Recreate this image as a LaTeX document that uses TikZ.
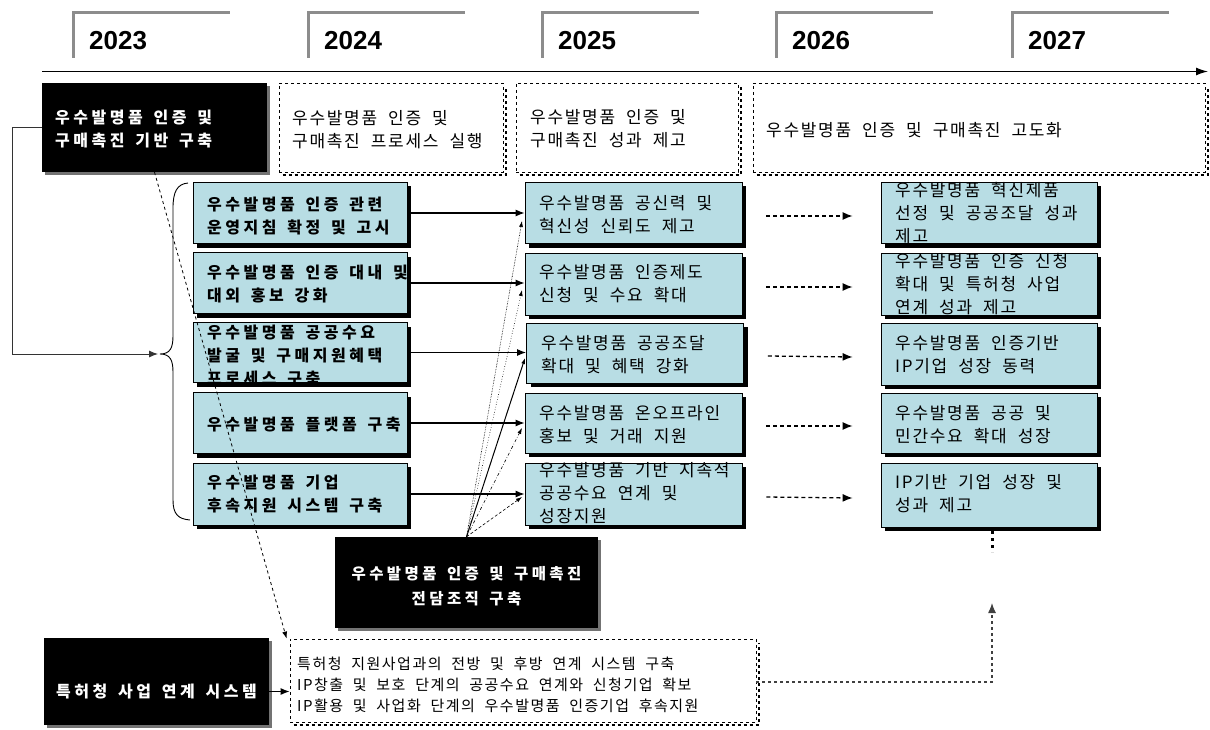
\documentclass[tikz,border=0pt]{standalone}
\usepackage{fontspec}
\usetikzlibrary{arrows.meta,shadows,calc}
\newfontfamily\krR{Noto Sans CJK KR}[LetterSpace=10,WordSpace=2]
\newfontfamily\krB{Noto Sans CJK KR}[LetterSpace=22,WordSpace=1.5]
\newfontfamily\yrf{Liberation Sans}
\definecolor{cy}{RGB}{184,221,228}
\definecolor{tabg}{RGB}{140,140,140}
\newcommand\myR{\krR\fontsize{17}{23}\selectfont}
\newcommand\myB{\krB\bfseries\fontsize{16}{23}\selectfont}
\newcommand\myO{\krB\bfseries\fontsize{15.5}{25}\selectfont}
\newcommand\myS{\krR\fontsize{15}{21}\selectfont}
\newcommand\myY{\yrf\bfseries\fontsize{26}{30}\selectfont}
\begin{document}
\begin{tikzpicture}[x=1pt,y=-1pt,
  cbox/.style={draw=black, line width=0.8pt, fill=cy, inner sep=0pt,
    drop shadow={shadow xshift=4pt, shadow yshift=-4pt, opacity=1, fill=black}},
  bbox/.style={fill=black, inner sep=0pt,
    drop shadow={shadow xshift=3pt, shadow yshift=-3pt, opacity=1, fill=black!55}},
  dbox/.style={draw=black, dashed, line width=0.8pt, fill=white, inner sep=0pt},
  dshadow/.style={dashed, line width=2.2pt},
  txt/.style={inner sep=0pt, align=left, anchor=west, font=\myR},
  btxt/.style={inner sep=0pt, align=left, anchor=west, font=\myB},
  wtxt/.style={inner sep=0pt, align=left, anchor=west, text=white, font=\myB},
  arr/.style={-{Latex[length=9pt,width=7pt]}, line width=1.1pt},
  darr/.style={dash pattern=on 4pt off 3pt, -{Latex[length=10pt,width=8pt]}, line width=1.3pt},
  fan/.style={-{Latex[length=6pt,width=4pt]}, line width=0.6pt},
  tab/.style={draw=tabg, line width=3pt},
]
\useasboundingbox (0,0) rectangle (1210,730);

% year tabs
\foreach \x/\yr in {73/2023,308/2024,542/2025,776/2026,1012/2027}{
  \draw[tab] (\x,58) -- (\x,12.5) -- (\x+157,12.5);
  \node[anchor=west, inner sep=0pt, font=\myY] (y\yr) at (\x+16,41) {\yr};
}
% timeline
\coordinate (tl0) at (42,71.5);
\coordinate (tl1) at (1208,71.5);
\draw[-{Latex[length=12pt,width=8pt]}, line width=1.3pt] (tl0) -- (tl1);

% row 1
\node[bbox, minimum width=225pt, minimum height=89pt] (bk1) at (154.5,127.5) {};
\node[wtxt] (tbk1) at (55,129.5) {우수발명품 인증 및\\구매촉진 기반 구축};
\node[dbox, minimum width=224pt, minimum height=89pt] (d1) at (391,127.5) {};
\node[txt] (td1) at (292,129.5) {우수발명품 인증 및\\구매촉진 프로세스 실행};
\node[dbox, minimum width=222pt, minimum height=89pt] (d2) at (627,127.5) {};
\node[txt] (td2) at (530,128.5) {우수발명품 인증 및\\구매촉진 성과 제고};
\node[dbox, minimum width=452pt, minimum height=89pt] (d3) at (979,127.5) {};
\node[txt] (td3) at (766,130) {우수발명품 인증 및 구매촉진 고도화};
\foreach \n in {d1,d2,d3}{
  \draw[dshadow] ([shift={(4pt,-2.5pt)}]\n.south west) -- ([shift={(2.5pt,-2.5pt)}]\n.south east) -- ([shift={(2.5pt,-4pt)}]\n.north east);
}

% left column
\node[cbox, minimum width=214pt, minimum height=61pt] (L1) at (300,213) {};
\node[cbox, minimum width=214pt, minimum height=61pt] (L2) at (300,283) {};
\node[cbox, minimum width=214pt, minimum height=60pt] (L3) at (300,352.5) {};
\node[cbox, minimum width=214pt, minimum height=61pt] (L4) at (300,423) {};
\node[cbox, minimum width=214pt, minimum height=62pt] (L5) at (300,494) {};
\node[btxt] (tL1) at (207,216) {우수발명품 인증 관련\\운영지침 확정 및 고시};
\node[btxt] (tL2) at (207,284) {우수발명품 인증 대내 및\\대외 홍보 강화};
\node[btxt] (tL3) at (207,356) {우수발명품 공공수요\\발굴 및 구매지원혜택\\프로세스 구축};
\node[btxt] (tL4) at (207,425) {우수발명품 플랫폼 구축};
\node[btxt] (tL5) at (207,494.5) {우수발명품 기업\\후속지원 시스템 구축};

% middle column
\node[cbox, minimum width=217pt, minimum height=61pt] (M1) at (633.5,213) {};
\node[cbox, minimum width=217pt, minimum height=62pt] (M2) at (633.5,284) {};
\node[cbox, minimum width=217pt, minimum height=60pt] (M3) at (635,353) {};
\node[cbox, minimum width=217pt, minimum height=60pt] (M4) at (633.5,423) {};
\node[cbox, minimum width=217pt, minimum height=62pt] (M5) at (633.5,494) {};
\node[txt] (tM1) at (539,215) {우수발명품 공신력 및\\혁신성 신뢰도 제고};
\node[txt] (tM2) at (539,284) {우수발명품 인증제도\\신청 및 수요 확대};
\node[txt] (tM3) at (541,354.5) {우수발명품 공공조달\\확대 및 혜택 강화};
\node[txt] (tM4) at (539,425) {우수발명품 온오프라인\\홍보 및 거래 지원};
\node[txt] (tM5) at (539,493) {우수발명품 기반 지속적\\공공수요 연계 및\\성장지원};

% right column
\node[cbox, minimum width=216pt, minimum height=61pt] (R1) at (989,213) {};
\node[cbox, minimum width=216pt, minimum height=62pt] (R2) at (989,284) {};
\node[cbox, minimum width=216pt, minimum height=62pt] (R3) at (989,354) {};
\node[cbox, minimum width=216pt, minimum height=60pt] (R4) at (989,423) {};
\node[cbox, minimum width=216pt, minimum height=64pt] (R5) at (989,495) {};
\node[txt] (tR1) at (895,213) {우수발명품 혁신제품\\선정 및 공공조달 성과\\제고};
\node[txt] (tR2) at (895,284.5) {우수발명품 인증 신청\\확대 및 특허청 사업\\연계 성과 제고};
\node[txt] (tR3) at (895,354.5) {우수발명품 인증기반\\IP기업 성장 동력};
\node[txt] (tR4) at (895,425) {우수발명품 공공 및\\민간수요 확대 성장};
\node[txt] (tR5) at (895,494) {IP기반 기업 성장 및\\성과 제고};

% brace and link from bk1
\coordinate (bt) at (160,354);
\draw[line width=0.9pt] (188,183) .. controls (177,184) and (173,192) .. (173,208) -- (173,336)
  .. controls (173,348) and (170,354) .. (bt)
  .. controls (170,354) and (173,360) .. (173,372) -- (173,500)
  .. controls (173,514) and (178,519) .. (190,520);
\draw[arr, line width=0.9pt, draw=black!80] (bk1.west) -- (12,127.5) -- (12,354) -- ([xshift=-2pt]bt);

% solid arrows L -> M
\foreach \i in {1,...,5}{
  \draw[arr] (L\i.east) -- (L\i.east -| M\i.west);
}
% dashed arrows M -> R
\foreach \i in {1,...,5}{
  \draw[darr] ($(M\i.east)+(24,3)$) -- ($(R\i.west)+(-28,3)$);
}

% organisation box
\node[bbox, minimum width=263pt, minimum height=91pt] (O) at (466.5,582.5) {};
\node[inner sep=0pt, align=center, text=white, font=\myO] (tO) at (466.5,586) {우수발명품 인증 및 구매촉진\\전담조직 구축};

% fan lines
\coordinate (f1) at (522,221);
\coordinate (f2) at (522,290);
\coordinate (f3) at (525,358);
\coordinate (f4) at (522,428);
\coordinate (f5) at (522,497);
\draw[fan, densely dotted] (O.north) -- (f1);
\draw[fan, dotted] (O.north) -- (f2);
\draw[fan, line width=1pt] (O.north) -- (f3);
\draw[fan, dash dot] (O.north) -- (f4);
\draw[fan, densely dashed] (O.north) -- (f5);

% bottom row
\node[bbox, minimum width=225pt, minimum height=87pt] (bk2) at (156.5,681.5) {};
\node[inner sep=0pt, text=white, font=\myB] (tbk2) at (156.5,692) {특허청 사업 연계 시스템};
\node[dbox, minimum width=466pt, minimum height=83pt] (db) at (523,680.5) {};
\draw[dshadow] ([shift={(4pt,-2.5pt)}]db.south west) -- ([shift={(2.5pt,-2.5pt)}]db.south east) -- ([shift={(2.5pt,-4pt)}]db.north east);
\node[txt, font=\myS] (tdb) at (297,685) {특허청 지원사업과의 전방 및 후방 연계 시스템 구축\\IP창출 및 보호 단계의 공공수요 연계와 신청기업 확보\\IP활용 및 사업화 단계의 우수발명품 인증기업 후속지원};
\draw[arr] ($(bk2.east)+(0,10)$) coordinate (a0) -- (a0 -| db.west);

% diagonal dashed from bk1 to db
\draw[dashed, line width=0.8pt, -{Latex[length=7pt,width=5pt]}] (bk1.south) -- ([xshift=-3pt]db.north west);

% dashed link from db to R5 column
\coordinate (up) at (992,603);
\draw[dashed, line width=1.2pt, draw=black!75, -{Latex[length=10pt,width=8pt]}] (db.east |- 0,682) -- (992,682) -- (up);
\coordinate (dt) at (992,531);
\draw[line width=3pt, dash pattern=on 3pt off 4pt] (dt) -- (992,552);
\end{tikzpicture}
\end{document}
